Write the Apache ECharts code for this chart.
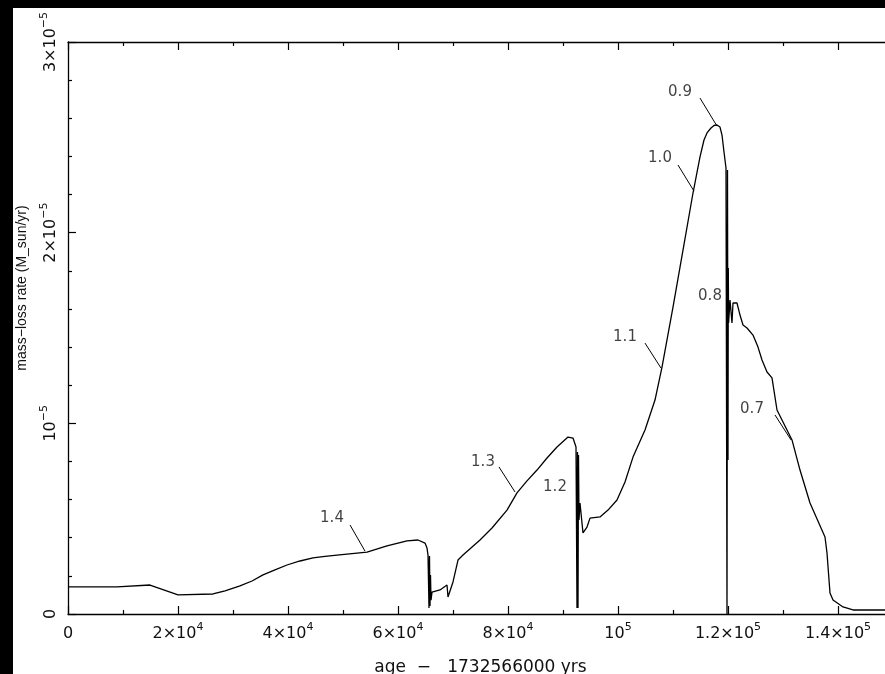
<!DOCTYPE html>
<html>
<head>
<meta charset="utf-8">
<title>mass-loss rate</title>
<script src="https://cdn.jsdelivr.net/npm/echarts@6/dist/echarts.min.js"></script>
<style>
  html, body { margin: 0; padding: 0; background: #000; }
  #chart { width: 885px; height: 674px; }
</style>
</head>
<body>
<div id="chart"></div>
<script>
// age - 1732566000 yrs
const ageYears = [
  0, 8909, 9091, 14909, 20000, 26364, 28545, 31273, 33455, 35455,
  37636, 39818, 42182, 44545, 46727, 48909, 51636, 54364, 58000, 59818,
  61636, 63636, 64909, 65273, 65455,
  65636, 65727, 65818, 65909, 66000, 66182, 67636, 68909, 69091,
  70000, 70909, 71818, 74909, 77091, 79818, 81636, 83455, 85273, 87091,
  88909, 90909, 91818, 92364, 92545, 92636, 92727, 92818, 92909, 93091,
  93636, 94364, 94909, 96727, 98182, 99818, 101273, 102727, 104909, 106727,
  108000, 110000, 111818, 113636, 114909, 115636, 116182, 116909, 117455, 118000,
  118545, 118909, 119273, 119636,
  119818, 119909, 120000, 120055, 120109, 120364, 120727, 120909,
  121636, 122182, 122727, 123455, 124545, 125455, 126182, 127091,
  128000, 128909, 130000, 131636, 133091, 134909, 137636, 138000,
  138545, 139091, 140909, 142727, 150000
];
// mass-loss rate in units of 1e-5 M_sun/yr
const rateE5 = [
  0.142, 0.142, 0.152, 0.152, 0.100, 0.105, 0.121, 0.147, 0.173, 0.205,
  0.231, 0.257, 0.278, 0.294, 0.302, 0.309, 0.317, 0.325, 0.357, 0.370,
  0.383, 0.388, 0.372, 0.346, 0.309,
  0.031, 0.304, 0.042, 0.205, 0.073, 0.115, 0.126, 0.152, 0.089,
  0.168, 0.283, 0.309, 0.388, 0.451, 0.545, 0.635, 0.698, 0.755, 0.818,
  0.876, 0.928, 0.923, 0.876, 0.031, 0.850, 0.031, 0.834, 0.493, 0.582,
  0.425, 0.456, 0.503, 0.509, 0.545, 0.598, 0.692, 0.823, 0.965, 1.122,
  1.295, 1.610, 1.909, 2.208, 2.397, 2.486, 2.523, 2.549, 2.562, 2.565,
  2.554, 2.512, 2.423, 2.339,
  0.000, 2.329, 0.808, 1.815, 1.526, 1.647, 1.526, 1.631,
  1.631, 1.568, 1.516, 1.500, 1.463, 1.400, 1.332, 1.269,
  1.238, 1.070, 1.007, 0.913, 0.755, 0.582, 0.404, 0.320,
  0.110, 0.073, 0.037, 0.021, 0.021
];

// curve annotations (mass labels) and their leader lines
const annotText = ['1.4', '1.3', '1.2', '1.1', '1.0', '0.9', '0.8', '0.7'];
const annotAge = [48000, 75455, 88545, 101273, 107636, 111273, 116727, 124364];
const annotRate = [0.503, 0.797, 0.666, 1.453, 2.392, 2.738, 1.668, 1.075];
const leaderFrom = [[51273, 0.467], [78364, 0.771], null, [104909, 1.421], [110909, 2.355], [114909, 2.706], null, [128545, 1.044]];
const leaderTo = [[54000, 0.330], [81273, 0.640], null, [107818, 1.290], [113818, 2.218], [118000, 2.559], null, [131455, 0.913]];

const xTickText = {0: '0', 20000: '2×10{sup|4}', 40000: '4×10{sup|4}', 60000: '6×10{sup|4}',
  80000: '8×10{sup|4}', 100000: '10{sup|5}', 120000: '1.2×10{sup|5}', 140000: '1.4×10{sup|5}'};
const yTickText = {0: '0', 1: '10{sup|−5}', 2: '2×10{sup|−5}', 3: '3×10{sup|−5}'};

const font = 'DejaVu Sans';
const supRich = {
  sup: { fontSize: 11, fontFamily: font, color: '#111', verticalAlign: 'top', lineHeight: 24 }
};

const chart = echarts.init(document.getElementById('chart'));

const curve = ageYears.map((a, i) => [a, rateE5[i]]);
const annots = annotText.map((t, i) => [annotAge[i], annotRate[i], t]);
const leaders = [];
leaderFrom.forEach((p, i) => {
  if (p) leaders.push([{ coord: p }, { coord: leaderTo[i] }]);
});

const axisLine = { show: true, lineStyle: { color: '#000', width: 1.3 } };
const axisTick = { show: true, inside: true, length: 8, lineStyle: { color: '#000', width: 1.2 } };
const noSplit = { show: false };

chart.setOption({
  backgroundColor: '#000',
  animation: false,
  graphic: [
    { type: 'rect', z: -100, silent: true, shape: { x: 13, y: 8, width: 872, height: 666 }, style: { fill: '#fff' } },
    {
      type: 'text', x: 22, y: 288, rotation: Math.PI / 2, silent: true,
      style: { text: 'mass−loss rate (M_sun/yr)', font: '14px Liberation Sans', fill: '#111', align: 'center', verticalAlign: 'middle' }
    }
  ],
  grid: { left: 68, top: 42, right: -8, bottom: 60, containLabel: false, outerBoundsMode: 'none' },
  xAxis: [
    {
      type: 'value', position: 'bottom', min: 0, max: 150000, interval: 20000,
      name: 'age  −   1732566000 yrs', nameLocation: 'middle', nameGap: 45,
      nameTextStyle: { fontFamily: font, fontSize: 17, color: '#111' },
      axisLine: axisLine, axisTick: axisTick, splitLine: noSplit,
      axisLabel: {
        margin: 8, fontFamily: font, fontSize: 16, color: '#111', lineHeight: 24,
        formatter: v => xTickText[v] !== undefined ? xTickText[v] : '',
        rich: supRich
      },
      minorTick: { show: true, splitNumber: 2, length: 4, lineStyle: { color: '#000', width: 1.2 } }
    },
    {
      type: 'value', position: 'top', min: 0, max: 150000, interval: 20000,
      axisLine: axisLine, axisTick: axisTick, splitLine: noSplit,
      axisLabel: { show: false },
      minorTick: { show: true, splitNumber: 2, length: 4, lineStyle: { color: '#000', width: 1.2 } }
    }
  ],
  yAxis: [
    {
      type: 'value', position: 'left', min: 0, max: 3, interval: 1,
      axisLine: axisLine, axisTick: axisTick, splitLine: noSplit,
      axisLabel: {
        rotate: 90, margin: 5, fontFamily: font, fontSize: 16, color: '#111', lineHeight: 24,
        formatter: v => yTickText[v] !== undefined ? yTickText[v] : '',
        rich: supRich
      },
      minorTick: { show: true, splitNumber: 5, length: 4, lineStyle: { color: '#000', width: 1.2 } }
    }
  ],
  series: [
    {
      type: 'line',
      data: curve,
      showSymbol: false,
      symbol: 'none',
      lineStyle: { color: '#000', width: 1.3 },
      clip: true
    },
    {
      type: 'scatter',
      data: annots,
      symbolSize: 0,
      itemStyle: { color: 'transparent' },
      label: {
        show: true, position: 'inside', formatter: p => p.data[2],
        fontFamily: font, fontSize: 15, color: '#111'
      },
      markLine: {
        silent: true,
        symbol: ['none', 'none'],
        label: { show: false },
        lineStyle: { color: '#000', width: 1, type: 'solid' },
        data: leaders
      }
    }
  ]
});
</script>
</body>
</html>
